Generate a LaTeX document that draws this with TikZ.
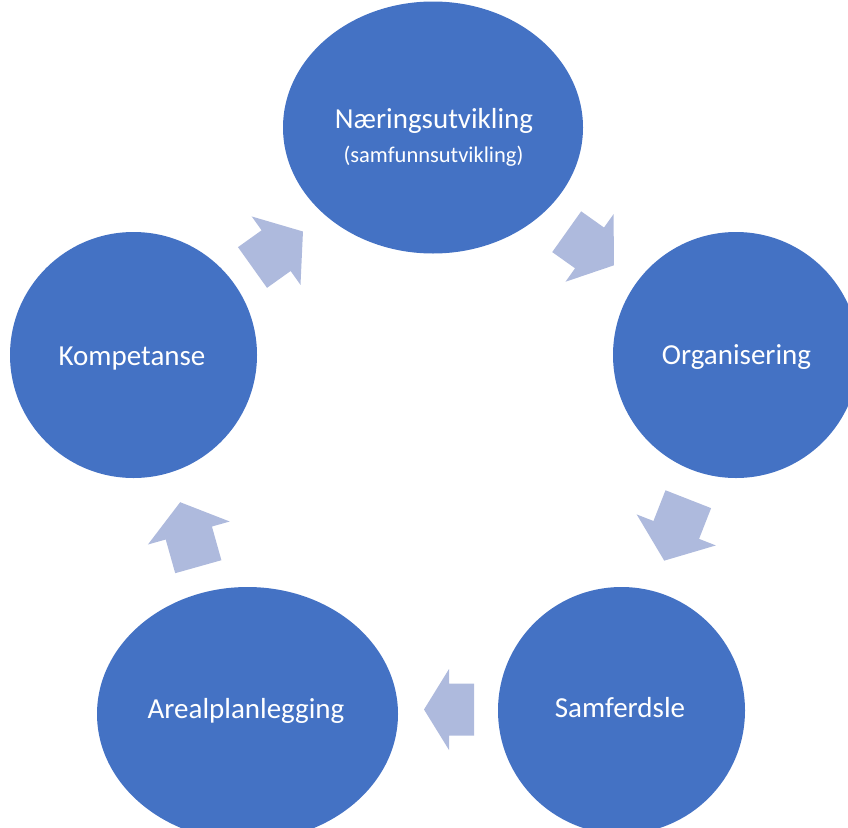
\documentclass[tikz,border=0pt]{standalone}
\usepackage{fontspec}
\setmainfont{Carlito}
\usetikzlibrary{shapes.geometric}
\definecolor{circblue}{HTML}{4472C4}
\definecolor{arrblue}{HTML}{AEBADD}
\tikzset{
  bubble/.style={ellipse, fill=circblue, draw=none, inner sep=0pt},
  lbl/.style={text=white, font=\fontsize{29}{34}\selectfont, anchor=base, inner sep=0pt},
  sublbl/.style={text=white, font=\fontsize{22.5}{27}\selectfont, anchor=base, inner sep=0pt},
  pics/blockarr/.style n args={4}{code={
    \fill[arrblue] (0,-#3) -- (#1,-#3) -- (#1,-#4) -- (#1+#2,0) -- (#1,#4) -- (#1,#3) -- (0,#3) -- cycle;
  }}
}
\begin{document}
\begin{tikzpicture}[x=1pt,y=-1pt]
\useasboundingbox (0,0) rectangle (848,827);
\clip (0,0) rectangle (848,827);
% circles
\node[bubble, minimum width=300pt, minimum height=252pt] (naer) at (433,127.5) {};
\node[bubble, minimum width=246pt, minimum height=246pt] (org) at (736,355) {};
\node[bubble, minimum width=247pt, minimum height=247pt] (sam) at (621.5,710.5) {};
\node[bubble, minimum width=301pt, minimum height=254pt] (areal) at (247.5,714) {};
\node[bubble, minimum width=247pt, minimum height=246pt] (komp) at (133.5,355) {};
% labels
\node[lbl] (naerT) at (434,128.3) {Næringsutvikling};
\node[sublbl] (naerS) at (433.5,162.5) {(samfunnsutvikling)};
\node[lbl] (orgT) at (736.5,364.5) {Organisering};
\node[lbl] (samT) at (620,717.7) {Samferdsle};
\node[lbl] (arealT) at (246,718) {Arealplanlegging};
\node[lbl] (kompT) at (132,365) {Kompetanse};
% block arrows
\pic[rotate=35.5] at (252.5,267.5) {blockarr={29}{33}{25}{42}};
\pic[rotate=-35.4] at (566.7,231.7) {blockarr={28}{30}{25}{41.5}};
\pic[rotate=248.6] at (688.3,499.2) {blockarr={33}{33}{24.5}{42.5}};
\pic[rotate=180] at (474,709.5) {blockarr={25}{25}{26}{40.5}};
\pic[rotate=105.7] at (198.3,566.7) {blockarr={35}{32}{24}{42.5}};
\end{tikzpicture}
\end{document}
